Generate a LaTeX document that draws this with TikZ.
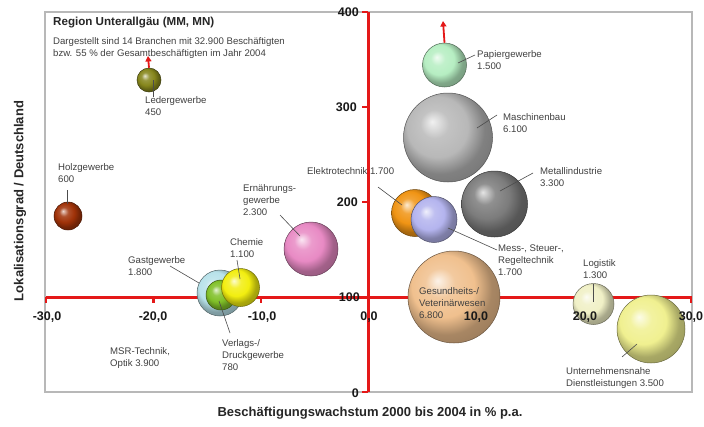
\documentclass[tikz,border=0pt]{standalone}
\usepackage{fontspec}
\setmainfont{Liberation Sans}
\usetikzlibrary{arrows.meta}
\makeatletter
\pgfdeclareradialshading[tikz@ball]{softball}{\pgfqpoint{-9bp}{9bp}}{color(0bp)=(tikz@ball!20!white); color(8bp)=(tikz@ball!85!white); color(17bp)=(tikz@ball); color(25bp)=(tikz@ball!70!black); color(50bp)=(tikz@ball!50!black)}
\makeatother
\definecolor{axred}{HTML}{E41818}
\definecolor{cLeder}{HTML}{86861C}
\definecolor{cHolz}{HTML}{A03208}
\definecolor{cErn}{HTML}{E88AC4}
\definecolor{cChem}{HTML}{F2EE10}
\definecolor{cGast}{HTML}{B8E2EA}
\definecolor{cVerl}{HTML}{80C028}
\definecolor{cElek}{HTML}{F09414}
\definecolor{cMess}{HTML}{B4B4EE}
\definecolor{cMetall}{HTML}{7C7C7C}
\definecolor{cMasch}{HTML}{B8B8B8}
\definecolor{cPap}{HTML}{B6EEC2}
\definecolor{cGes}{HTML}{F0C08E}
\definecolor{cLog}{HTML}{F0F0C6}
\definecolor{cUnt}{HTML}{F0F090}
\tikzset{
  bub/.style={circle, inner sep=0pt, ball color=#1, shading=softball, draw=#1!45!black, line width=0.5pt},
  lead/.style={draw=black!70, line width=0.6pt},
  lbl/.style={anchor=north west, inner sep=0pt, align=left, text=black!75, font=\fontsize{9.6}{12}\selectfont},
  ticklbl/.style={font=\fontsize{12.5}{14}\selectfont\bfseries, inner sep=0pt, text=black!90},
  axisred/.style={draw=axred, line width=3pt},
  axtick/.style={draw=axred, line width=2.5pt},
  redarrow/.style={draw=axred, line width=1.8pt, -{Triangle[width=6pt,length=5.5pt]}},
}
\begin{document}
\begin{tikzpicture}[x=1pt,y=-1pt]
\useasboundingbox (0,0) rectangle (704,426);
\fill[white] (0,0) rectangle (704,426);
% frame
\draw[draw=black!28, line width=1.1pt] (45,12) rectangle (692,392);
% axes
\draw[axisred] (368,12) -- (368,392);
\foreach \y in {12,107,202,297,392} \draw[axtick] (362,\y) -- (368,\y);
\draw[axisred] (46,297) -- (692,297);
\foreach \x in {46,153.5,261,368.5,476,583.5,691} \draw[axtick] (\x,297) -- (\x,303);
% bubbles
\node[bub=cLeder, minimum size=24pt] (leder) at (149,80) {};
\node[bub=cHolz, minimum size=28pt] (holz) at (68,216) {};
\node[bub=cErn, minimum size=54pt] (ern) at (311,249) {};
\node[bub=cGast, minimum size=46pt] (gast) at (220,293) {};
\node[bub=cVerl, minimum size=30pt] (verl) at (221,295) {};
\node[bub=cChem, minimum size=38pt] (chem) at (240.5,287.5) {};
\node[bub=cElek, minimum size=47pt] (elek) at (415,213) {};
\node[bub=cMess, minimum size=46pt] (mess) at (434,219.5) {};
\node[bub=cMetall, minimum size=66pt] (metall) at (494.5,204) {};
\node[bub=cMasch, minimum size=89pt] (masch) at (448,137.5) {};
\node[bub=cPap, minimum size=44pt] (pap) at (444.5,65) {};
\node[bub=cGes, minimum size=92pt] (ges) at (454,297) {};
\node[bub=cLog, minimum size=41pt] (log) at (593.5,304) {};
\node[bub=cUnt, minimum size=68pt] (unt) at (651,329) {};
% red arrows
\coordinate (lederTip) at (148,56);
\coordinate (papTip) at (443,21);
\draw[redarrow] (leder.north) -- (lederTip);
\draw[redarrow] (pap.north) -- (papTip);
% leader line end points
\coordinate (lederA) at (153,80);   \coordinate (lederB) at (153,97);
\coordinate (holzA) at (67,204);    \coordinate (holzB) at (67,190);
\coordinate (ernA) at (300,236);    \coordinate (ernB) at (280,215);
\coordinate (chemA) at (240,279);   \coordinate (chemB) at (237,260);
\coordinate (gastA) at (199,283);   \coordinate (gastB) at (170,266);
\coordinate (verlA) at (219,301);   \coordinate (verlB) at (230,333);
\coordinate (elekA) at (402,205);   \coordinate (elekB) at (378,187);
\coordinate (messA) at (448,228);   \coordinate (messB) at (497,250);
\coordinate (metallA) at (500,191); \coordinate (metallB) at (533,173);
\coordinate (maschA) at (477,128);  \coordinate (maschB) at (497,115);
\coordinate (papA) at (458,63);     \coordinate (papB) at (475,55);
\coordinate (logA) at (593,302);    \coordinate (logB) at (593,284);
\coordinate (untA) at (622,357);    \coordinate (untB) at (637,344);
\foreach \n in {leder,holz,ern,chem,gast,verl,elek,mess,metall,masch,pap,log,unt}
  \draw[lead] (\n A) -- (\n B);
% title
\node[anchor=north west, inner sep=0pt, font=\fontsize{11.6}{13}\selectfont\bfseries, text=black!85] (title) at (53,16.5) {Region Unterallgäu (MM, MN)};
\node[lbl, font=\fontsize{9.6}{11.5}\selectfont] (sub) at (53,37.5) {Dargestellt sind 14 Branchen mit 32.900 Beschäftigten\\bzw. 55 \% der Gesamtbeschäftigten im Jahr 2004};
% labels
\node[lbl] (lederL) at (145,96) {Ledergewerbe\\450};
\node[lbl] (holzL) at (58,163.5) {Holzgewerbe\\600};
\node[lbl] (ernL) at (243,184.5) {Ernährungs-\\gewerbe\\2.300};
\node[lbl] (chemL) at (230,238.5) {Chemie\\1.100};
\node[lbl] (gastL) at (128,256) {Gastgewerbe\\1.800};
\node[lbl] (msrL) at (110,347.5) {MSR-Technik,\\Optik 3.900};
\node[lbl] (verlL) at (222,339.5) {Verlags-/\\Druckgewerbe\\780};
\node[lbl] (elekL) at (307,167.5) {Elektrotechnik 1.700};
\node[lbl] (papL) at (477,50.5) {Papiergewerbe\\1.500};
\node[lbl] (maschL) at (503,113.5) {Maschinenbau\\6.100};
\node[lbl] (metallL) at (540,167.5) {Metallindustrie\\3.300};
\node[lbl] (messL) at (498,244.5) {Mess-, Steuer-,\\Regeltechnik\\1.700};
\node[lbl] (gesL) at (419,287.5) {Gesundheits-/\\Veterinärwesen\\6.800};
\node[lbl] (logL) at (583,259.5) {Logistik\\1.300};
\node[lbl] (untL) at (566,367.5) {Unternehmensnahe\\Dienstleistungen 3.500};
% tick labels
\node[ticklbl, anchor=east] (y400) at (359,12) {400};
\node[ticklbl, anchor=east] (y300) at (357,107) {300};
\node[ticklbl, anchor=east] (y200) at (358,202) {200};
\node[ticklbl, anchor=east] (y100) at (360,297) {100};
\node[ticklbl, anchor=east] (y0) at (359,393) {0};
\node[ticklbl] (xm30) at (47,317) {-30,0};
\node[ticklbl] (xm20) at (153,317) {-20,0};
\node[ticklbl] (xm10) at (262,317) {-10,0};
\node[ticklbl] (x0) at (369,317) {0,0};
\node[ticklbl] (x10) at (476,317) {10,0};
\node[ticklbl] (x20) at (585,317) {20,0};
\node[ticklbl] (x30) at (691,317) {30,0};
% axis titles
\node[font=\fontsize{13}{15}\selectfont\bfseries, text=black!85, inner sep=0pt] (xtitle) at (370,413) {Beschäftigungswachstum 2000 bis 2004 in \% p.a.};
\node[font=\fontsize{13}{15}\selectfont\bfseries, text=black!85, inner sep=0pt, rotate=90] (ytitle) at (20,201) {Lokalisationsgrad / Deutschland};
\end{tikzpicture}
\end{document}
